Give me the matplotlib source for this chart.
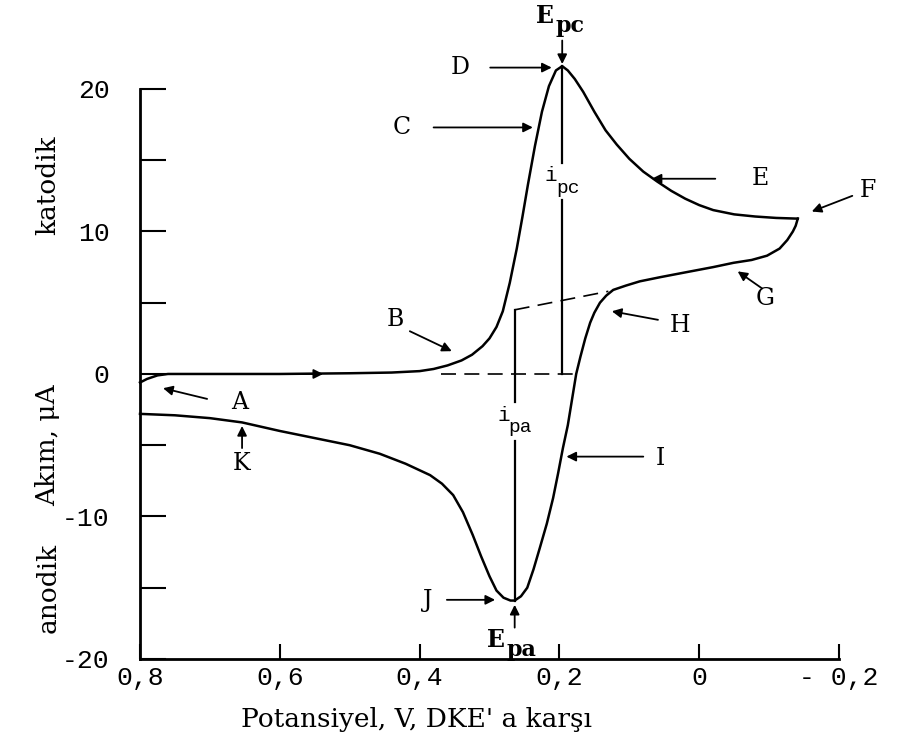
import matplotlib
matplotlib.use('Agg')
import matplotlib.pyplot as plt
from matplotlib.transforms import offset_copy

# forward (cathodic) sweep, 0.8 V -> -0.14 V
fwd_e = [0.800, 0.790, 0.775, 0.760, 0.700, 0.600, 0.500, 0.440, 0.400, 0.380,
         0.360, 0.340, 0.325, 0.310, 0.300, 0.290, 0.281, 0.271, 0.261, 0.253,
         0.245, 0.235, 0.225, 0.215, 0.205, 0.196, 0.188, 0.178, 0.166, 0.150,
         0.134, 0.118, 0.100, 0.080, 0.060, 0.040, 0.020, 0.000, -0.020, -0.050,
         -0.080, -0.110, -0.141]
fwd_i = [-0.6, -0.35, -0.1, 0.0, 0.0, 0.0, 0.05, 0.1, 0.2, 0.35,
         0.6, 0.95, 1.35, 1.95, 2.5, 3.3, 4.4, 6.4, 8.8, 11.0,
         13.3, 16.0, 18.4, 20.2, 21.3, 21.6, 21.3, 20.7, 19.8, 18.4,
         17.1, 16.1, 15.1, 14.2, 13.5, 12.85, 12.3, 11.85, 11.5, 11.2,
         11.05, 10.95, 10.9]

# reverse (anodic) sweep, -0.14 V -> 0.8 V
rev_e = [-0.141, -0.138, -0.134, -0.126, -0.115, -0.097, -0.075, -0.049, -0.020, 0.023,
         0.055, 0.085, 0.105, 0.123, 0.133, 0.142, 0.150, 0.156, 0.163, 0.170,
         0.176, 0.182, 0.188, 0.195, 0.202, 0.209, 0.218, 0.228, 0.237, 0.246,
         0.255, 0.264, 0.270, 0.280, 0.290, 0.300, 0.312, 0.324, 0.338, 0.352,
         0.368, 0.385, 0.420, 0.457, 0.500, 0.550, 0.600, 0.654, 0.700, 0.750,
         0.800]
rev_i = [10.9, 10.4, 10.0, 9.4, 8.8, 8.3, 8.0, 7.8, 7.5, 7.1,
         6.8, 6.5, 6.2, 5.9, 5.5, 5.0, 4.3, 3.6, 2.5, 1.2,
         0.0, -1.8, -3.6, -5.2, -7.0, -8.7, -10.5, -12.2, -13.7, -15.0,
         -15.6, -15.9, -15.9, -15.7, -15.2, -14.2, -12.8, -11.3, -9.7, -8.5,
         -7.7, -7.1, -6.3, -5.6, -5.0, -4.5, -4.0, -3.4, -3.1, -2.9,
         -2.8]

# peak positions and baselines
epc, ipc = 0.196, 21.6
epa, ipa = 0.264, -15.9
ipa_base = 4.5
anodic_base_e = [0.264, 0.130]
anodic_base_i = [4.5, 5.8]
cathodic_base_e = [0.370, 0.175]

x_ticks = [0.8, 0.6, 0.4, 0.2, 0.0, -0.2]
x_labels = ['0,8', '0,6', '0,4', '0,2', '0', '- 0,2']
y_ticks = [-20, -15, -10, -5, 0, 5, 10, 15, 20]
y_labels = ['-20', '', '-10', '', '0', '', '10', '', '20']

SERIF = ['DejaVu Serif']
MONO = ['Liberation Mono', 'DejaVu Sans Mono']

fig = plt.figure(figsize=(9.05, 7.42), dpi=100)
ax = fig.add_axes([0.1547, 0.1119, 0.7724, 0.7682])
ax.set_xlim(0.8, -0.2)
ax.set_ylim(-20, 20)

for side in ('top', 'right'):
    ax.spines[side].set_visible(False)
for side in ('left', 'bottom'):
    ax.spines[side].set_linewidth(2.0)

ax.set_xticks(x_ticks)
ax.set_xticklabels(x_labels, family=MONO, fontsize=19)
ax.set_yticks(y_ticks)
ax.set_yticklabels(y_labels, family=MONO, fontsize=19)
ax.tick_params(axis='x', direction='in', length=11, width=1.5, pad=5)
ax.tick_params(axis='y', direction='in', length=19, width=1.5, pad=22)

# voltammogram
ax.plot(fwd_e, fwd_i, color='black', lw=1.8, clip_on=False)
ax.plot(rev_e, rev_i, color='black', lw=1.8, clip_on=False)

# baselines
ax.plot(cathodic_base_e, [0, 0], color='black', lw=1.2, ls=(0, (9, 5)))
ax.plot(anodic_base_e, anodic_base_i, color='black', lw=1.2, ls=(0, (9, 5)))

# peak current lines, broken where the label sits
ax.plot([epc, epc], [ipc, 14.8], color='black', lw=1.6, clip_on=False)
ax.plot([epc, epc], [12.2, 0], color='black', lw=1.6)
ax.plot([epa, epa], [ipa_base, -2.0], color='black', lw=1.6)
ax.plot([epa, epa], [-4.7, ipa], color='black', lw=1.6)


def arrow(tail, tip):
    ax.annotate('', xy=tip, xytext=tail, annotation_clip=False,
                arrowprops=dict(arrowstyle='-|>', color='black', lw=1.3,
                                mutation_scale=14, shrinkA=0, shrinkB=0))


def letter(x, y, s):
    ax.text(x, y, s, ha='center', va='center', family=SERIF, fontsize=17)


def sub_label(x, y, main, sub, size, dx, dy, family, weight='normal'):
    ax.text(x, y, main, ha='right', va='center', family=family,
            fontsize=size, fontweight=weight)
    tr = offset_copy(ax.transData, fig=fig, x=dx, y=dy, units='points')
    ax.text(x, y, sub, ha='left', va='center', family=family,
            fontsize=size - 1, fontweight=weight, transform=tr)


# direction of the forward sweep
arrow((0.575, 0), (0.538, 0))

sub_label(0.208, 25.1, 'E', 'pc', 17, 1, -7, SERIF, weight='bold')
arrow((epc, 23.4), (epc, 21.75))
sub_label(0.278, -18.7, 'E', 'pa', 17, 1, -7, SERIF, weight='bold')
arrow((epa, -17.8), (epa, -16.2))
sub_label(0.203, 13.9, 'i', 'pc', 15, -1, -9, MONO)
sub_label(0.271, -2.9, 'i', 'pa', 15, -1, -9, MONO)

letter(0.342, 21.5, 'D')
arrow((0.299, 21.5), (0.211, 21.5))
letter(0.425, 17.3, 'C')
arrow((0.380, 17.3), (0.238, 17.3))
letter(-0.087, 13.7, 'E')
arrow((-0.023, 13.7), (0.068, 13.7))
letter(-0.241, 12.9, 'F')
arrow((-0.219, 12.5), (-0.161, 11.4))
letter(-0.094, 5.3, 'G')
arrow((-0.090, 6.0), (-0.055, 7.2))
letter(0.027, 3.4, 'H')
arrow((0.059, 3.8), (0.125, 4.4))
letter(0.435, 3.8, 'B')
arrow((0.414, 3.0), (0.354, 1.6))
letter(0.657, -2.0, 'A')
arrow((0.704, -1.75), (0.767, -1.0))
letter(0.654, -6.3, 'K')
arrow((0.654, -5.2), (0.654, -3.65))
letter(0.056, -5.9, 'I')
arrow((0.080, -5.8), (0.190, -5.8))
letter(0.389, -15.9, 'J')
arrow((0.361, -15.85), (0.292, -15.85))

fig.text(0.053, 0.750, 'katodik', rotation=90, ha='center', va='center',
         family=SERIF, fontsize=19)
fig.text(0.053, 0.400, 'Akım, μA', rotation=90, ha='center', va='center',
         family=SERIF, fontsize=19)
fig.text(0.053, 0.208, 'anodik', rotation=90, ha='center', va='center',
         family=SERIF, fontsize=19)
fig.text(0.460, 0.030, "Potansiyel, V, DKE' a karşı", ha='center', va='center',
         family=SERIF, fontsize=19)

fig.savefig('out.png', dpi=100)
